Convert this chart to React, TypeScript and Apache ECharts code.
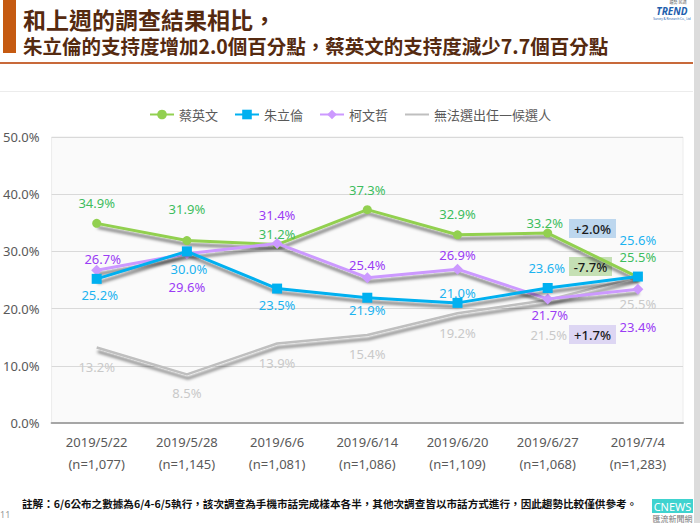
import React, { useEffect, useRef } from 'react';
import * as echarts from 'echarts';

const categories = ['2019/5/22', '2019/5/28', '2019/6/6', '2019/6/14', '2019/6/20', '2019/6/27', '2019/7/4'];
const sampleSizes = ['1,077', '1,145', '1,081', '1,086', '1,109', '1,068', '1,283'];
const seriesNames = ['蔡英文', '朱立倫', '柯文哲', '無法選出任一候選人'];
const tsaiValues = [34.9, 31.9, 31.2, 37.3, 32.9, 33.2, 25.5];
const chuValues = [25.2, 30.0, 23.5, 21.9, 21.0, 23.6, 25.6];
const koValues = [26.7, 29.6, 31.4, 25.4, 26.9, 21.7, 23.4];
const undecidedValues = [13.2, 8.5, 13.9, 15.4, 19.2, 21.5, 25.5];
const changeNotes = ['+2.0%', '-7.7%', '+1.7%'];
const titleLine1 = '和上週的調查結果相比，';
const titleLine2 = '朱立倫的支持度增加2.0個百分點，蔡英文的支持度減少7.7個百分點';
const footnote = '註解：6/6公布之數據為6/4-6/5執行，該次調查為手機市話完成樣本各半，其他次調查皆以市話方式進行，因此趨勢比較僅供參考。';

// label placement (style only): offset of each label from its point
const tsaiLabelOffsets = [[0, -20], [0, -32], [0, -11], [0, -20], [0, -21], [-3, -10], [0, -20]];
const chuLabelOffsets = [[3, 16], [2, 18], [0, 16], [0, 12], [0, -10], [-1, -20], [0, -37]];
const koLabelOffsets = [[6, -11], [0, 33], [0, -28], [0, -13], [0, -14], [2, 16], [0, 38]];
const undecidedLabelOffsets = [[0, 20], [0, 19], [0, 20], [0, 19], [0, 20], [1, 35], [0, 27]];

const CJK = '"Noto Sans CJK TC", "Noto Sans", sans-serif';
const NUM = '"Noto Sans", "Noto Sans CJK TC", sans-serif';

function makeSeries(
  name: string,
  values: number[],
  color: string,
  labelColor: string,
  symbol: string,
  symbolSize: number,
  offsets: number[][],
  z: number,
  hideSymbol = false
) {
  return {
    type: 'line',
    name,
    z,
    data: values.map((v, i) => ({ value: v, label: { offset: offsets[i] } })),
    symbol,
    symbolSize,
    showSymbol: true,
    lineStyle: {
      color,
      width: hideSymbol ? 2.5 : 3,
      shadowColor: 'rgba(0,0,0,0.5)',
      shadowBlur: 3,
      shadowOffsetX: 1,
      shadowOffsetY: 4,
    },
    itemStyle: { color: hideSymbol ? 'rgba(0,0,0,0)' : color },
    label: {
      show: true,
      position: 'inside',
      color: labelColor,
      fontSize: 13,
      fontFamily: NUM,
      formatter: (p: any) => Number(p.value).toFixed(1) + '%',
    },
    emphasis: { disabled: true },
  };
}

export default function App() {
  const ref = useRef<HTMLDivElement>(null);
  useEffect(() => {
    document.body.style.margin = '0';
    const chart = echarts.init(ref.current!, null, { renderer: 'svg' });
    const noteBox = (x: number, y: number, w: number, fill: string, text: string) => ({
      type: 'group',
      children: [
        { type: 'rect', shape: { x, y, width: w, height: 19 }, style: { fill } },
        {
          type: 'text',
          x: x + w / 2,
          y: y + 10,
          style: { text, fill: '#1a1a1a', fontSize: 13, fontFamily: NUM, fontWeight: 500, align: 'center', verticalAlign: 'middle' },
        },
      ],
    });
    chart.setOption({
      animation: false,
      backgroundColor: '#ffffff',
      textStyle: { fontFamily: CJK },
      grid: {
        left: 48,
        right: 17,
        top: 137,
        bottom: 100,
        show: true,
        backgroundColor: '#fafafa',
        borderColor: '#ececec',
        borderWidth: 1,
      },
      legend: {
        top: 103,
        left: 'center',
        itemWidth: 24,
        itemHeight: 12,
        itemGap: 16,
        textStyle: { color: '#595959', fontSize: 13, fontFamily: CJK },
        data: seriesNames,
      },
      xAxis: {
        type: 'category',
        data: categories,
        boundaryGap: true,
        axisLine: { lineStyle: { color: '#a6a6a6', width: 2 } },
        axisTick: { show: false },
        axisLabel: {
          color: '#595959',
          fontSize: 13,
          fontFamily: NUM,
          lineHeight: 22,
          margin: 8,
          formatter: (v: string, i: number) => `${v}\n(n=${sampleSizes[i]})`,
        },
      },
      yAxis: {
        type: 'value',
        min: 0,
        max: 50,
        interval: 10,
        axisLine: { show: false },
        axisTick: { show: false },
        splitLine: { lineStyle: { color: '#d9d9d9', width: 1 } },
        axisLabel: {
          color: '#595959',
          fontSize: 13,
          fontFamily: NUM,
          margin: 12,
          formatter: (v: number) => v.toFixed(1) + '%',
        },
      },
      series: [
        makeSeries(seriesNames[3], undecidedValues, '#bfbfbf', '#c9c9c9', 'circle', 4, undecidedLabelOffsets, 2, true),
        makeSeries(seriesNames[0], tsaiValues, '#92d050', '#3dbd5e', 'circle', 9, tsaiLabelOffsets, 3),
        makeSeries(seriesNames[2], koValues, '#cc99ff', '#9b3cf5', 'diamond', 11, koLabelOffsets, 4),
        makeSeries(seriesNames[1], chuValues, '#00b0f0', '#1cb3f0', 'rect', 10, chuLabelOffsets, 5),
      ],
      graphic: [
        { type: 'rect', shape: { x: 3, y: 0, width: 13, height: 53 }, style: { fill: '#c55a11' } },
        {
          type: 'text', x: 23, y: 19,
          style: { text: titleLine1, fill: '#552a10', fontSize: 23, lineHeight: 24, fontWeight: 'bold', fontFamily: CJK, verticalAlign: 'middle' },
        },
        {
          type: 'text', x: 23, y: 45,
          style: { text: titleLine2, fill: '#552a10', fontSize: 19.5, lineHeight: 20, fontWeight: 'bold', fontFamily: CJK, verticalAlign: 'middle' },
        },
        { type: 'rect', shape: { x: 0, y: 62, width: 693, height: 2 }, style: { fill: '#c8693a' } },
        { type: 'rect', shape: { x: 0, y: 91, width: 693, height: 1 }, style: { fill: '#ececec' } },
        { type: 'rect', shape: { x: 694, y: 0, width: 6, height: 523 }, style: { fill: '#dcdcdc' } },
        {
          type: 'text', x: 678, y: 0,
          style: { text: '趨勢 民調', fill: '#666', fontSize: 4, fontFamily: CJK, align: 'center' },
        },
        {
          type: 'text', x: 672, y: 10.5,
          style: { text: 'TREND', fill: '#1f5fae', fontSize: 10, fontWeight: 'bold', fontStyle: 'italic', fontFamily: NUM, align: 'center', verticalAlign: 'middle' },
        },
        {
          type: 'text', x: 672, y: 17,
          style: { text: 'Survey & Research Co., Ltd', fill: '#1f5fae', fontSize: 3, fontFamily: NUM, align: 'center' },
        },
        noteBox(569, 219, 47, '#bdd7ee', changeNotes[0]),
        noteBox(569, 257, 43, '#c5e0b4', changeNotes[1]),
        noteBox(569, 325, 47, '#ddd6f3', changeNotes[2]),
        {
          type: 'text', x: 22, y: 503,
          style: { text: footnote, fill: '#111', fontSize: 10.6, fontWeight: 'bold', fontFamily: CJK, verticalAlign: 'middle' },
        },
        {
          type: 'text', x: 0, y: 514,
          style: { text: '11', fill: '#999', fontSize: 9, fontFamily: NUM, verticalAlign: 'middle' },
        },
        { type: 'rect', shape: { x: 652, y: 499, width: 41, height: 14 }, style: { fill: '#3fd3cf' } },
        {
          type: 'text', x: 672.5, y: 506,
          style: { text: 'CNEWS', fill: '#ffffff', fontSize: 11, fontFamily: NUM, align: 'center', verticalAlign: 'middle' },
        },
        {
          type: 'text', x: 672.5, y: 518,
          style: { text: '匯流新聞網', fill: '#777', fontSize: 8, fontFamily: CJK, align: 'center', verticalAlign: 'middle' },
        },
      ],
    });
    return () => chart.dispose();
  }, []);
  return <div ref={ref} style={{ width: 700, height: 523 }} />;
}
